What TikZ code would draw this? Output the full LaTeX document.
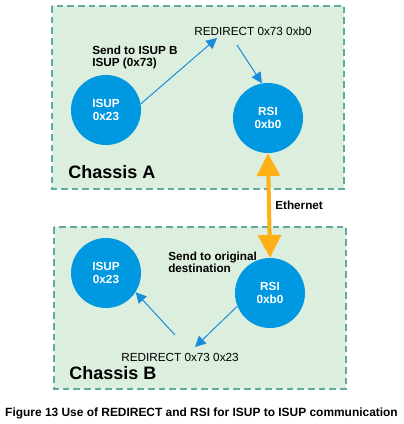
\documentclass[tikz,border=0pt]{standalone}
\usepackage{fontspec}
\setmainfont{Liberation Sans}
\usetikzlibrary{arrows.meta}
\definecolor{boxfill}{RGB}{220,238,221}
\definecolor{boxline}{RGB}{98,170,160}
\definecolor{nodeblue}{RGB}{0,152,224}
\definecolor{linkblue}{RGB}{24,142,218}
\definecolor{ethorange}{RGB}{255,176,20}
\begin{document}
\begin{tikzpicture}[
        x=0.75pt, y=-0.75pt,
        chassis/.style={draw=boxline, fill=boxfill, line width=1.5pt, dash pattern=on 5pt off 3pt},
        proc/.style={circle, fill=nodeblue, minimum size=52.5pt, inner sep=0pt, text=white, align=center,
            font=\fontsize{8.8}{10}\selectfont\bfseries},
        note/.style={align=left, inner sep=0pt, font=\fontsize{8.8}{8.8}\selectfont\bfseries},
        msg/.style={inner sep=0pt, font=\fontsize{8.8}{10}\selectfont},
        title/.style={inner sep=0pt, font=\fontsize{13.5}{15}\selectfont\bfseries},
        link/.style={draw=linkblue, line width=0.75pt, -{Triangle[length=8pt, width=8pt]}},
        eth/.style={draw=ethorange, line width=3pt, {Triangle[length=17pt, width=17pt]}-{Triangle[length=17pt, width=17pt]}},
    ]
    \useasboundingbox[fill=white] (0,0) rectangle (403,424);
    \draw[chassis] (52,6) rectangle (344,189);
    \draw[chassis] (54,227) rectangle (346,389);

    \node[proc] (isupA) at (106,110) {ISUP\\0x23};
    \node[proc] (rsiA) at (268,118) {RSI\\0xb0};
    \node[proc] (isupB) at (106,273) {ISUP\\0x23};
    \node[proc] (rsiB) at (270,293) {RSI\\0xb0};

    \node[msg] (redirA) at (253,31) {REDIRECT 0x73 0xb0};
    \node[msg] (redirB) at (180,357) {REDIRECT 0x73 0x23};
    \node[note, anchor=west] (sendA) at (92,57.5) {Send to ISUP B\\ISUP (0x73)};
    \node[note, anchor=west] (sendB) at (168,262) {Send to original\\destination};
    \node[note, anchor=west] (ethernet) at (275,205) {Ethernet};
    \node[title, anchor=west] (chassisA) at (68,172) {Chassis A};
    \node[title, anchor=west] (chassisB) at (69,373) {Chassis B};
    \node[inner sep=0pt, font=\fontsize{8.95}{10}\selectfont\bfseries] (caption) at (201.5,413)
        {Figure 13 Use of REDIRECT and RSI for ISUP to ISUP communication};

    \coordinate (toRedirA) at (217,38);
    \coordinate (fromRedirA) at (237,45);
    \coordinate (toRedirB) at (195,347);
    \coordinate (fromRedirB) at (175,335);

    \draw[link] (isupA.10) -- (toRedirA);
    \draw[link] (fromRedirA) -- (rsiA.100);
    \draw[link] (rsiB.202) -- (toRedirB);
    \draw[link] (fromRedirB) -- (isupB.327);
    \draw[eth] (rsiA.south) -- (rsiB.north);
\end{tikzpicture}
\end{document}
